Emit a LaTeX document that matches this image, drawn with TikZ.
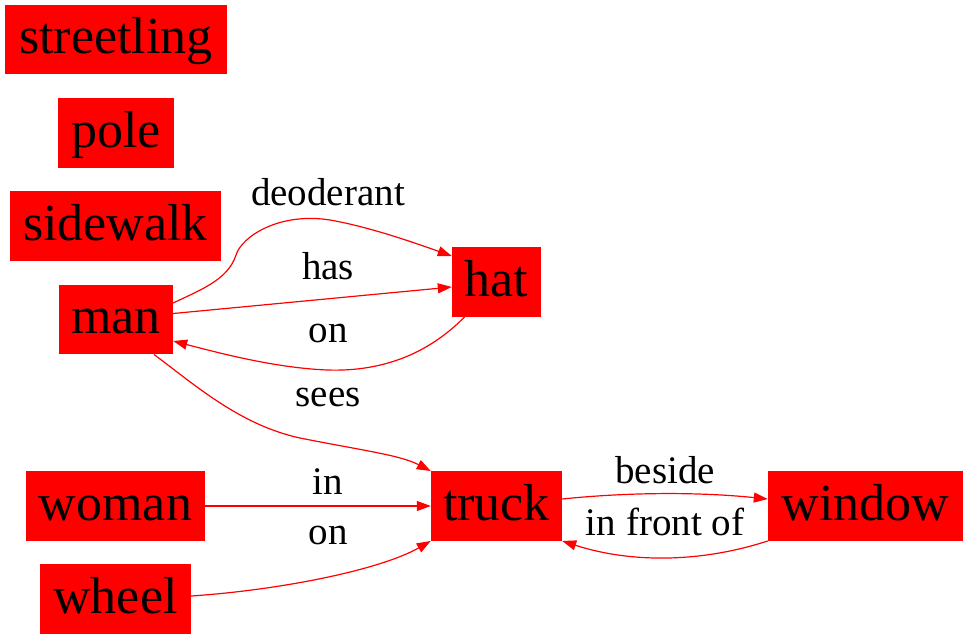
\documentclass[tikz,border=0pt]{standalone}
\usepackage{fontspec}
\setmainfont{Liberation Serif}
\usetikzlibrary{arrows.meta,calc}
\definecolor{nodered}{RGB}{255,0,0}
\tikzset{
  obj/.style={rectangle, fill=nodered, draw=none, inner sep=0pt, minimum height=69.5pt,
    text height=41pt, text depth=13pt, font=\fontsize{52}{60}\selectfont, text=black},
  rel/.style={draw=nodered, line width=1.2pt, -{Triangle[length=14pt,width=10pt]}},
  lbl/.style={anchor=base, inner sep=0pt, font=\fontsize{39}{45}\selectfont, text=black}
}
\begin{document}
\begin{tikzpicture}[x=1pt,y=-1pt]
\useasboundingbox (0,0) rectangle (968,640);
\node[obj, minimum width=222pt] (streetling) at (116,39.5) {streetling};
\node[obj, minimum width=116pt] (pole) at (116,133) {pole};
\node[obj, minimum width=211pt] (sidewalk) at (115.5,226) {sidewalk};
\node[obj, minimum width=114pt] (man) at (116,319.5) {man};
\node[obj, minimum width=89pt] (hat) at (496.5,282) {hat};
\node[obj, minimum width=179pt] (woman) at (115.5,506) {woman};
\node[obj, minimum width=151pt] (wheel) at (115.5,599) {wheel};
\node[obj, minimum width=131pt] (truck) at (496.5,506) {truck};
\node[obj, minimum width=195pt] (window) at (865.5,506) {window};

% man -> hat (deoderant)
\draw[rel] ($(man.east)+(0,-16.5)$) .. controls (200,290) and (228,280) .. (236,255)
  .. controls (242,236) and (280,212) .. (330,220)
  .. controls (370,227) and (415,243) .. ($(hat.west)+(0,-26)$);
\node[lbl] (l1) at (328,205) {deoderant};
% man -> hat (has)
\draw[rel] ($(man.east)+(0,-6)$) -- ($(hat.west)+(0,5)$);
\node[lbl] (l2) at (328,279) {has};
% hat -> man (on)
\draw[rel] ($(hat.south)+(-32,0)$) .. controls (430,352) and (385,372) .. (327,370)
  .. controls (280,368) and (230,356) .. ($(man.east)+(0,21.5)$);
\node[lbl] (l3) at (328,342) {on};
% man -> truck (sees)
\draw[rel] ($(man.south)+(38,0)$) .. controls (195,385) and (240,425) .. (300,438)
  .. controls (360,450) and (400,455) .. (truck.north west);
\node[lbl] (l4) at (328,406) {sees};
% woman -> truck (in)
\draw[rel] (woman.east) -- (truck.west);
\node[lbl] (l5) at (328,494) {in};
% wheel -> truck (on)
\draw[rel] ($(wheel.east)+(0,-3)$) .. controls (280,590) and (380,570) .. (truck.south west);
\node[lbl] (l6) at (328,544) {on};
% truck -> window (beside)
\draw[rel] ($(truck.east)+(0,-7)$) .. controls (630,492) and (700,492) .. ($(window.west)+(0,-7)$);
\node[lbl] (l7) at (665,483) {beside};
% window -> truck (in front of)
\draw[rel] (window.south west) .. controls (700,563) and (630,563) .. (truck.south east);
\node[lbl] (l8) at (665,535) {in front of};
\end{tikzpicture}
\end{document}
